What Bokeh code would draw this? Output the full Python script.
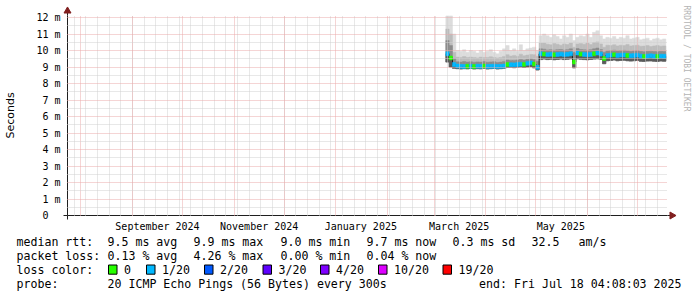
import math
import numpy as np
import pandas as pd
from bokeh.plotting import figure
from bokeh.models import Range1d, FixedTicker, ColumnDataSource
from bokeh.core.properties import value
from bokeh.embed import file_html
from bokeh.resources import INLINE

# ---------------- data ----------------
range_start = "2024-07-24"
range_end = "2025-07-19"
first_day = "2025-03-09"
step_days = 2

median_ms = [
    9.80, 9.55, 9.15, 9.06, 9.04, 9.03, 9.05, 9.04, 9.03, 9.05,
    9.04, 9.06, 9.03, 9.04, 9.05, 9.03, 9.04, 9.06, 9.15, 9.14,
    9.13, 9.15, 9.17, 9.16, 9.22, 9.25, 9.18, 8.98, 9.80, 9.78,
    9.75, 9.77, 9.74, 9.76, 9.78, 9.75, 9.77, 9.80, 9.30, 9.85,
    9.78, 9.76, 9.74, 9.76, 9.80, 9.85, 9.78, 9.52, 9.70, 9.72,
    9.74, 9.70, 9.72, 9.73, 9.70, 9.68, 9.70, 9.72, 9.66, 9.64,
    9.66, 9.68, 9.65, 9.64, 9.66, 9.65]
lost_pings = [
    1, 0, 1, 1, 1, 1, 0, 1, 0, 1,
    1, 0, 1, 1, 1, 1, 1, 1, 0, 1,
    1, 1, 1, 0, 1, 1, 0, 1, 1, 0,
    1, 1, 0, 1, 1, 1, 1, 1, 0, 1,
    0, 1, 1, 1, 0, 1, 1, 0, 1, 1,
    0, 1, 1, 1, 0, 1, 1, 1, 1, 0,
    1, 1, 1, 0, 1, 1]
smoke_lo = [
    9.30, 9.00, 8.92, 8.90, 8.88, 8.90, 8.89, 8.91, 8.88, 8.90,
    8.89, 8.92, 8.88, 8.90, 8.91, 8.88, 8.90, 8.92, 8.97, 8.98,
    8.96, 8.99, 9.00, 8.97, 9.00, 9.02, 8.95, 8.82, 9.45, 9.48,
    9.45, 9.47, 9.44, 9.46, 9.48, 9.45, 9.47, 9.50, 8.95, 9.50,
    9.47, 9.45, 9.44, 9.46, 9.48, 9.50, 9.46, 9.20, 9.38, 9.40,
    9.42, 9.38, 9.40, 9.41, 9.38, 9.36, 9.38, 9.40, 9.35, 9.34,
    9.36, 9.37, 9.35, 9.34, 9.36, 9.35]
smoke_core = [
    10.60, 10.30, 9.50, 9.32, 9.30, 9.33, 9.30, 9.32, 9.29, 9.31,
    9.30, 9.33, 9.29, 9.31, 9.32, 9.28, 9.30, 9.34, 9.42, 9.40,
    9.40, 9.42, 9.45, 9.42, 9.47, 9.50, 9.45, 9.35, 10.10, 10.08,
    10.03, 10.05, 10.02, 10.05, 10.06, 10.03, 10.05, 10.10, 9.90, 10.12,
    10.06, 10.04, 10.02, 10.05, 10.10, 10.15, 10.06, 9.90, 9.98, 10.00,
    10.02, 9.98, 10.00, 10.01, 9.98, 9.96, 9.98, 10.00, 9.95, 9.93,
    9.95, 9.96, 9.94, 9.93, 9.95, 9.94]
smoke_mid = [
    11.30, 11.00, 9.90, 9.60, 9.58, 9.63, 9.57, 9.60, 9.58, 9.55,
    9.60, 9.57, 9.58, 9.62, 9.57, 9.55, 9.58, 9.64, 9.75, 9.66,
    9.70, 9.65, 9.78, 9.68, 9.72, 9.76, 9.75, 9.65, 10.45, 10.45,
    10.38, 10.35, 10.42, 10.38, 10.32, 10.40, 10.36, 10.45, 10.20, 10.40,
    10.42, 10.38, 10.45, 10.36, 10.48, 10.52, 10.40, 10.20, 10.32, 10.30,
    10.35, 10.28, 10.32, 10.30, 10.36, 10.28, 10.30, 10.32, 10.26, 10.27,
    10.30, 10.24, 10.28, 10.30, 10.26, 10.28]
smoke_hi = [
    12.10, 12.10, 11.00, 10.00, 9.95, 10.05, 9.90, 10.00, 9.95, 9.85,
    10.00, 9.90, 9.95, 10.05, 9.90, 9.80, 9.95, 10.10, 10.30, 10.00,
    10.10, 9.95, 10.35, 10.00, 10.10, 10.15, 10.20, 10.00, 10.90, 11.00,
    10.90, 10.80, 10.95, 10.85, 10.70, 10.90, 10.80, 11.00, 10.60, 10.80,
    10.90, 10.85, 11.00, 10.80, 11.10, 11.20, 10.90, 10.70, 10.80, 10.75,
    10.85, 10.70, 10.80, 10.75, 10.90, 10.70, 10.75, 10.80, 10.65, 10.70,
    10.75, 10.60, 10.70, 10.75, 10.65, 10.70]

y_tick_values = [0, 1, 2, 3, 4, 5, 6, 7, 8, 9, 10, 11, 12]
y_tick_labels = ["0\u00a0\u00a0", "1 m", "2 m", "3 m", "4 m", "5 m", "6 m",
                 "7 m", "8 m", "9 m", "10 m", "11 m", "12 m"]
month_label_dates = ["2024-09-16", "2024-11-16", "2025-01-16", "2025-03-16", "2025-05-16"]
month_labels = ["September 2024", "November 2024", "January 2025", "March 2025", "May 2025"]

loss_levels = [0, 1, 2, 3, 4, 10, 19]
loss_names = ["0", "1/20", "2/20", "3/20", "4/20", "10/20", "19/20"]
loss_colors = ["#26ff00", "#00b8ff", "#0059ff", "#5e00ff", "#7e00ff", "#dd00ff", "#ff0000"]

rtt_title = "median rtt:"
rtt_stats = ["9.5 ms avg", "9.9 ms max", "9.0 ms min", "9.7 ms now", "0.3 ms sd", "32.5", "am/s"]
loss_title = "packet loss:"
loss_stats = ["0.13 % avg", "4.26 % max", "0.00 % min", "0.04 % now"]
color_title = "loss color:"
probe_title = "probe:"
probe_text = "20 ICMP Echo Pings (56 Bytes) every 300s"
end_text = "end: Fri Jul 18 04:08:03 2025"
watermark = "RRDTOOL / TOBI OETIKER"
y_title = "Seconds"

# ---------------- layout constants ----------------
W, H = 697, 297
FL, FW, FT, FH = 67, 600, 15, 200
YMAX = 200 / 16.5
MONO = "DejaVu Sans Mono"


def ms(s):
    return int(pd.Timestamp(s).value // 10**6)


T0, T1 = ms(range_start), ms(range_end)


def xd(px):  # canvas pixel -> data x
    return T0 + (px - FL) / FW * (T1 - T0)


def yd(py):  # canvas pixel -> data y
    return (FT + FH - py) / FH * YMAX


def color_for(n):
    for lvl, c in zip(loss_levels, loss_colors):
        if n <= lvl:
            return c
    return loss_colors[-1]


dates = pd.date_range(first_day, periods=len(median_ms), freq=f"{step_days}D")
half = pd.Timedelta(days=step_days / 2)
med = np.array(median_ms)
src = ColumnDataSource(dict(
    x=dates, left=dates - half, right=dates + half,
    med=med, lo=smoke_lo, core=smoke_core, mid=smoke_mid, hi=smoke_hi,
    blo=med - 0.12, bhi=med + 0.12,
    col=[color_for(n) for n in lost_pings],
))

p = figure(width=W, height=H, x_axis_type="datetime",
           x_range=Range1d(T0, T1), y_range=Range1d(0, YMAX),
           output_backend="svg", toolbar_location=None,
           min_border_left=FL, min_border_right=W - FL - FW,
           min_border_top=FT, min_border_bottom=H - FT - FH)
p.outline_line_color = None
p.background_fill_color = "white"
p.border_fill_color = "white"

# smoke
for top, colr in [("hi", "#dcdcdc"), ("mid", "#bcbcbc"), ("core", "#8c8c8c"), ("med", "#5a5a5a")]:
    p.quad(left="left", right="right", bottom="lo", top=top, source=src,
           fill_color=colr, line_color=colr, line_width=0.5)
# median line and loss-colored band
p.step(x="x", y="med", mode="center", source=src, line_color="#202020", line_width=1)
p.quad(left="left", right="right", bottom="blo", top="bhi", source=src,
       fill_color="col", line_color="col", line_width=0.5)

# grids
month_starts = [ms(d) for d in pd.date_range("2024-08-01", "2025-07-01", freq="MS")]
sundays = [ms(d) for d in pd.date_range("2024-07-28", "2025-07-13", freq="7D")]
p.xgrid.ticker = FixedTicker(ticks=month_starts, minor_ticks=sundays)
p.ygrid.ticker = FixedTicker(ticks=y_tick_values, minor_ticks=[v + 0.5 for v in y_tick_values[:-1]])
for g in (p.xgrid, p.ygrid):
    g.grid_line_color = "#eaaaaa"
    g.grid_line_alpha = 1.0
    g.grid_line_dash = "1 1"
    g.grid_line_width = 1
    g.minor_grid_line_color = "#d0d0d0"
    g.minor_grid_line_alpha = 1.0
    g.minor_grid_line_dash = "1 1"
    g.minor_grid_line_width = 1
    g.level = "overlay"

# axes
xa = p.xaxis[0]
xa.ticker = FixedTicker(ticks=[ms(d) for d in month_label_dates])
xa.major_label_overrides = {ms(d): t for d, t in zip(month_label_dates, month_labels)}
ya = p.yaxis[0]
ya.ticker = FixedTicker(ticks=y_tick_values)
ya.major_label_overrides = dict(zip(y_tick_values, y_tick_labels))
ya.axis_label = y_title
ya.axis_label_text_font = "DejaVu Sans"
ya.axis_label_text_font_size = "11px"
ya.axis_label_text_font_style = "normal"
ya.axis_label_text_color = "black"
ya.axis_label_standoff = 16
for a in (xa, ya):
    a.axis_line_color = "#1f1f1f"
    a.axis_line_width = 1
    a.major_tick_line_color = None
    a.minor_tick_line_color = None
    a.major_tick_out = 0
    a.major_tick_in = 0
    a.minor_tick_out = 0
    a.minor_tick_in = 0
    a.major_label_text_font = MONO
    a.major_label_text_font_size = "10px"
    a.major_label_text_color = "black"
xa.major_label_standoff = 5
ya.major_label_standoff = 7

# ---------- elements outside the plot frame (overlay level is not clipped) ----------
OV = dict(level="overlay")
# axis extensions + arrows
p.segment(x0=[T0, T1, xd(63), T0], y0=[YMAX, 0, 0, 0],
          x1=[T0, xd(671), T0, T0], y1=[yd(10), 0, 0, yd(219)],
          line_color="#1f1f1f", line_width=1, **OV)
p.scatter(x=[T0], y=[yd(10.5)], marker="triangle", size=7, angle=0,
          fill_color="#801f1f", line_color="#801f1f", **OV)
p.scatter(x=[xd(671.5)], y=[0], marker="triangle", size=7, angle=-math.pi / 2,
          fill_color="#801f1f", line_color="#801f1f", **OV)

# watermark
p.text(x=[xd(686)], y=[yd(5)], text=[watermark], angle=-math.pi / 2,
       text_font=value(MONO), text_font_size="8px", text_color="#b4b4b4",
       text_align="left", text_baseline="middle", **OV)

# legend / statistics rows
row_y = [241, 255, 269, 283]
tx, ty, tt = [], [], []


def put(x, y, t):
    tx.append(xd(x)); ty.append(yd(y)); tt.append(t)


put(16, row_y[0], rtt_title)
for x, t in zip([107, 193, 280, 366, 452, 531, 578], rtt_stats):
    put(x, row_y[0], t)
put(16, row_y[1], loss_title)
for x, t in zip([107, 193, 280, 366], loss_stats):
    put(x, row_y[1], t)
put(16, row_y[2], color_title)
box_x = [108, 146, 204, 262.5, 320, 378, 442.5]
for bx, t in zip(box_x, loss_names):
    put(bx + 15.5, row_y[2], t)
put(16, row_y[3], probe_title)
put(107, row_y[3], probe_text)

p.text(x=tx, y=ty, text=tt, text_font=value(MONO), text_font_size="11.6px",
       text_color="black", text_align="left", text_baseline="middle", **OV)
p.text(x=[xd(681)], y=[yd(row_y[3])], text=[end_text], text_font=value(MONO),
       text_font_size="11.6px", text_color="black", text_align="right",
       text_baseline="middle", **OV)
p.quad(left=[xd(b) for b in box_x], right=[xd(b + 8.5) for b in box_x],
       top=[yd(row_y[2] - 4.5)] * len(box_x), bottom=[yd(row_y[2] + 4.7)] * len(box_x),
       fill_color=loss_colors, line_color="black", line_width=1, **OV)

open("out.html", "w").write(file_html(p, INLINE))
